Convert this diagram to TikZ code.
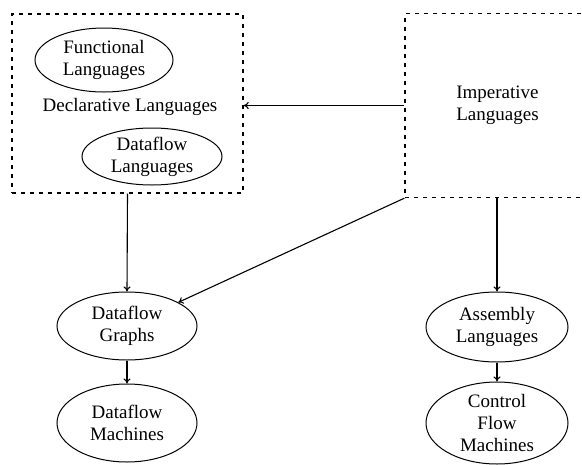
\documentclass[tikz,border=0pt]{standalone}
\usepackage{fontspec}
\setmainfont{Liberation Serif}
\usetikzlibrary{shapes.geometric,arrows.meta}

\begin{document}
\begin{tikzpicture}[x=1pt, y=-1pt,
    lang/.style={ellipse, draw, line width=1pt, inner sep=0pt, align=center,
      font=\fontsize{19}{22}\selectfont},
    group/.style={draw, dash pattern=on 4pt off 5pt, line width=1.4pt,
      inner sep=0pt, align=center, font=\fontsize{19}{22}\selectfont},
    flow/.style={-{To[length=5pt,width=7pt]}, line width=1.1pt}]
    \useasboundingbox (0,0) rectangle (582,464);
    \clip (0,0) rectangle (582,464);

    % the two groups of languages
    \node[group, minimum width=231pt, minimum height=179pt] (decl) at (127.5,103.5) {};
    \node[group, minimum width=185pt, minimum height=184pt] (imp) at (497.5,105.5)
      {Imperative\\Languages};
    \node[font=\fontsize{19}{22}\selectfont] (decltext) at (130,107) {Declarative Languages};
    \node[lang, minimum width=138pt, minimum height=64pt] (func) at (104,60)
      {Functional\\Languages};
    \node[lang, minimum width=140pt, minimum height=57pt] (dfl) at (152,156.5)
      {Dataflow\\Languages};

    % what they are turned into
    \node[lang, minimum width=140pt, minimum height=68pt] (dfg) at (127,326) {Dataflow\\Graphs};
    \node[lang, minimum width=140pt, minimum height=78pt] (dfm) at (127,423) {Dataflow\\Machines};
    \node[lang, minimum width=142pt, minimum height=70pt] (asm) at (497,327) {Assembly\\Languages};
    \node[lang, minimum width=142pt, minimum height=82pt] (cfm) at (497,423)
      {Control\\Flow\\Machines};

    \draw[flow] (imp.west) -- (imp.west -| decl.east);
    \draw[flow] (decl.south) -- (dfg.north);
    \draw[flow] (imp.south west) -- (dfg);
    \draw[flow] (imp.south -| asm.north) -- (asm.north);
    \draw[flow] (dfg) -- (dfm);
    \draw[flow] (asm) -- (cfm);
  \end{tikzpicture}
\end{document}
